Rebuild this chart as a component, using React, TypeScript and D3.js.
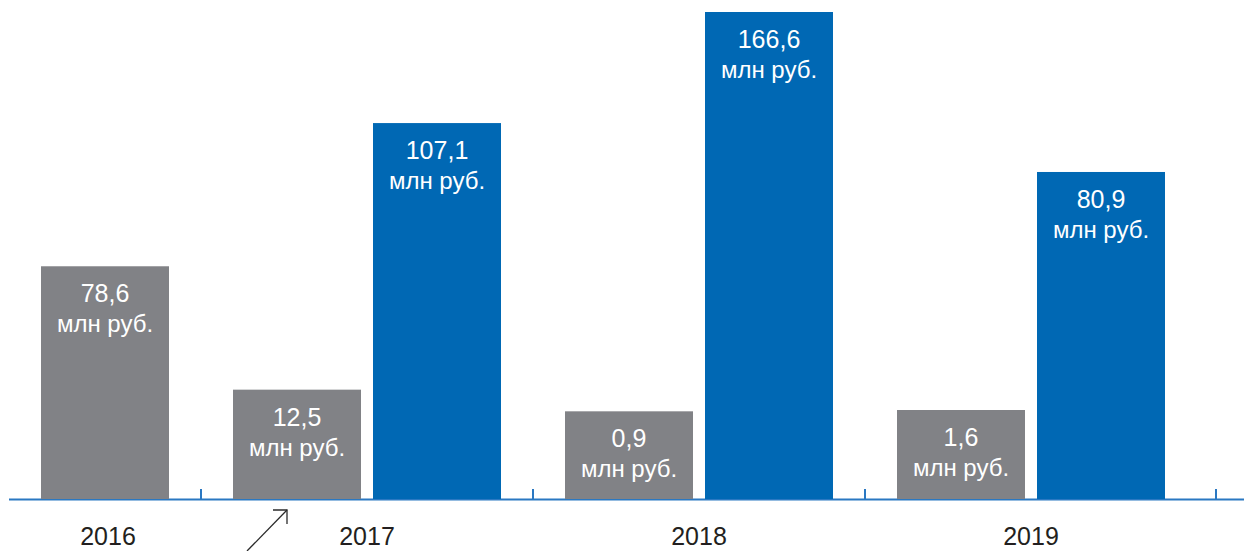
import { useEffect, useRef } from "react";
import * as d3 from "d3";

const WIDTH = 1244;
const HEIGHT = 551;

const years = ["2016", "2017", "2018", "2019"];
const grayValues = [78.6, 12.5, 0.9, 1.6];
const blueValues: (number | null)[] = [null, 107.1, 166.6, 80.9];
const unitLabel = "млн руб.";

export const colors = {
  GRAY: "#818286",
  BLUE: "#0068b4",
  AXIS: "#2a78c2",
  TEXT: "#231f20",
  LABEL: "#ffffff",
  ARROW: "#2b2b2b",
};

const baseline = 499;
const axisLeft = 9;
const barWidth = 128;
const barGap = 12;
const groupPad = 32;

// bars keep room for their label, the blue ones a bit more (not to scale in the original)
const labelRoom = { gray: 86, blue: 176 };

const ruFormat = d3.formatLocale({ decimal: ",", thousands: " ", grouping: [3], currency: ["", " руб."] }).format(".1f");

interface BarDatum {
  year: string;
  series: "gray" | "blue";
  value: number;
}

function App() {
  const ref = useRef<SVGSVGElement | null>(null);

  useEffect(() => {
    const svg = d3.select(ref.current);
    svg.selectAll("*").remove();

    const groups = years.map((year, i) => {
      const bars: BarDatum[] = [{ year, series: "gray", value: grayValues[i] }];
      if (blueValues[i] != null) bars.push({ year, series: "blue", value: blueValues[i] as number });
      return bars;
    });

    // group widths follow the number of bars in them
    const widths = groups.map((g) => groupPad * 2 + g.length * barWidth + (g.length - 1) * barGap);
    const edges = [axisLeft, ...Array.from(d3.cumsum(widths), (w) => axisLeft + w)];

    const all = [...grayValues, ...(blueValues.filter((v) => v != null) as number[])];
    const y = d3.scaleLinear().domain([0, d3.max(all) as number]).range([0, 311]);

    const font = "'Liberation Sans', Arial, sans-serif";

    // axis line
    svg
      .append("line")
      .attr("x1", axisLeft)
      .attr("x2", WIDTH)
      .attr("y1", baseline + 0.5)
      .attr("y2", baseline + 0.5)
      .style("stroke", colors.AXIS)
      .style("stroke-width", 2);

    const tickXs = [...edges.slice(1, -1), WIDTH - 28];
    svg
      .selectAll("line.tick")
      .data(tickXs)
      .enter()
      .append("line")
      .attr("class", "tick")
      .attr("x1", (d) => d)
      .attr("x2", (d) => d)
      .attr("y1", baseline - 10)
      .attr("y2", baseline)
      .style("stroke", colors.AXIS)
      .style("stroke-width", 2);

    groups.forEach((bars, i) => {
      const x0 = edges[i] + groupPad;
      const x1 = edges[i + 1] - groupPad;
      const inner = d3
        .scaleBand<string>()
        .domain(bars.map((b) => b.series))
        .range([x0, x1])
        .paddingInner(bars.length > 1 ? barGap / (barWidth + barGap) : 0)
        .paddingOuter(0);

      const g = svg.append("g");
      const top = (d: BarDatum) => baseline - labelRoom[d.series] - y(d.value);

      g.selectAll("rect")
        .data(bars)
        .enter()
        .append("rect")
        .attr("x", (d) => inner(d.series) as number)
        .attr("y", top)
        .attr("width", inner.bandwidth())
        .attr("height", (d) => baseline - top(d))
        .style("fill", (d) => (d.series === "gray" ? colors.GRAY : colors.BLUE));

      g.selectAll("text.value")
        .data(bars)
        .enter()
        .append("text")
        .attr("class", "value")
        .attr("x", (d) => (inner(d.series) as number) + inner.bandwidth() / 2)
        .attr("y", (d) => top(d) + 36)
        .attr("text-anchor", "middle")
        .style("font-family", font)
        .style("font-size", "25px")
        .style("fill", colors.LABEL)
        .text((d) => ruFormat(d.value));

      g.selectAll("text.unit")
        .data(bars)
        .enter()
        .append("text")
        .attr("class", "unit")
        .attr("x", (d) => (inner(d.series) as number) + inner.bandwidth() / 2)
        .attr("y", (d) => top(d) + 66)
        .attr("text-anchor", "middle")
        .style("font-family", font)
        .style("font-size", "24px")
        .style("fill", colors.LABEL)
        .text(unitLabel);

      g.append("text")
        .attr("x", (x0 + x1) / 2 + (i === 0 ? 3 : 0))
        .attr("y", 545)
        .attr("text-anchor", "middle")
        .style("font-family", font)
        .style("font-size", "25px")
        .style("fill", colors.TEXT)
        .text(bars[0].year);

      // arrow pointing at the 2017 gray bar
      if (i === 1) {
        const ax = (inner("gray") as number) + 54;
        const ay = baseline + 11;
        const arrow = svg.append("g").style("stroke", colors.ARROW).style("stroke-width", 1.3).style("fill", "none");
        arrow.append("line").attr("x1", ax - 40).attr("y1", HEIGHT).attr("x2", ax).attr("y2", ay);
        arrow.append("polyline").attr("points", `${ax - 14},${ay} ${ax},${ay} ${ax},${ay + 14}`);
      }
    });
  }, []);

  return (
    <svg
      ref={ref}
      width={WIDTH}
      height={HEIGHT}
      style={{ position: "absolute", left: 0, top: 0, background: "#fff" }}
    />
  );
}

export default App;
